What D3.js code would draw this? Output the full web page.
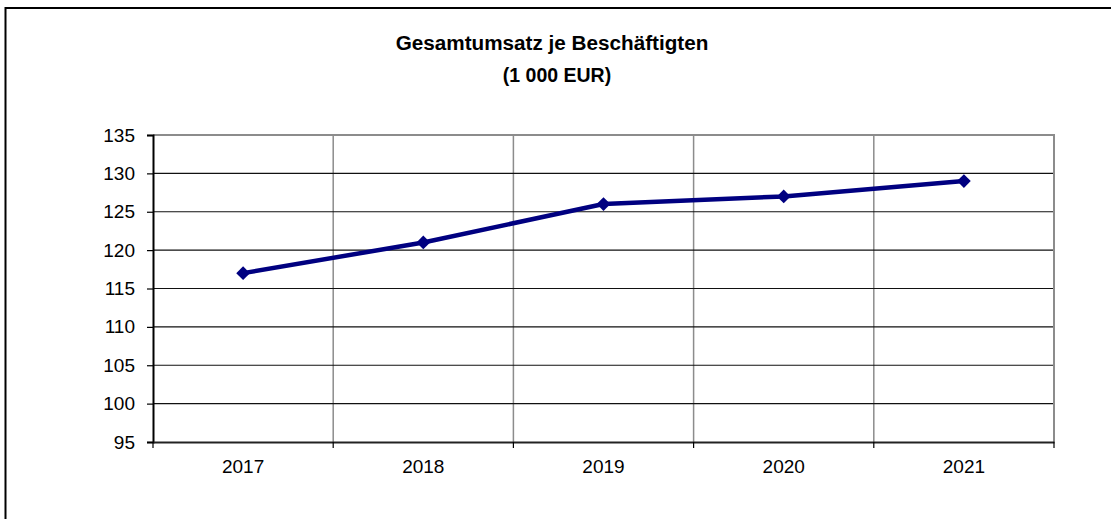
<!DOCTYPE html>
<html>
<head>
  <meta charset="utf-8">
  <title>Gesamtumsatz je Beschäftigten</title>
  <script src="https://d3js.org/d3.v7.min.js"></script>
  <style>
    body { margin: 0; background: #fff; }
    text { font-family: "Liberation Sans", Arial, sans-serif; fill: #000; }
  </style>
</head>
<body>
  <div id="chart"></div>

  <script>
    const years = ["2017", "2018", "2019", "2020", "2021"];
    const umsatz = [117, 121, 126, 127, 129];
    const yTicks = [95, 100, 105, 110, 115, 120, 125, 130, 135];

    const width = 1111, height = 519;
    const margin = { top: 135, right: 57, bottom: 77, left: 153 };
    const innerW = width - margin.left - margin.right;
    const innerH = height - margin.top - margin.bottom;

    const svg = d3.select("#chart")
      .append("svg")
      .attr("width", width)
      .attr("height", height);

    // outer frame (only left and top are visible in the picture)
    svg.append("rect")
      .attr("x", 5.5).attr("y", 8)
      .attr("width", 1200).attr("height", 600)
      .attr("fill", "none")
      .attr("stroke", "#000")
      .attr("stroke-width", 2);

    svg.append("text")
      .attr("x", 552).attr("y", 50)
      .attr("text-anchor", "middle")
      .style("font-size", "20.7px")
      .style("font-weight", "bold")
      .text("Gesamtumsatz je Beschäftigten");

    svg.append("text")
      .attr("x", 557).attr("y", 82)
      .attr("text-anchor", "middle")
      .style("font-size", "19.5px")
      .style("font-weight", "bold")
      .text("(1 000 EUR)");

    const g = svg.append("g")
      .attr("transform", "translate(" + margin.left + "," + margin.top + ")");

    const x = d3.scaleBand().domain(years).range([0, innerW]);
    const y = d3.scaleLinear().domain([95, 135]).range([innerH, 0]);

    // vertical grid at band edges
    g.selectAll(".vgrid")
      .data(years.slice(1))
      .enter().append("line")
      .attr("x1", d => x(d)).attr("x2", d => x(d))
      .attr("y1", 0).attr("y2", innerH)
      .attr("stroke", "#8c8c8c")
      .attr("stroke-width", 1.5);

    // horizontal grid
    g.selectAll(".hgrid")
      .data(yTicks.slice(1, -1))
      .enter().append("line")
      .attr("x1", 0).attr("x2", innerW)
      .attr("y1", d => y(d)).attr("y2", d => y(d))
      .attr("stroke", "#111")
      .attr("stroke-width", 1.1);

    // grey top and right border of plot area
    g.append("path")
      .attr("d", "M0," + y(135) + "H" + innerW + "V" + innerH)
      .attr("fill", "none")
      .attr("stroke", "#8c8c8c")
      .attr("stroke-width", 2);

    // y axis
    const yAxis = g.append("g")
      .call(d3.axisLeft(y).tickValues(yTicks).tickSize(6).tickPadding(12))
      .attr("font-size", 19)
      .attr("font-family", "'Liberation Sans', Arial, sans-serif");
    yAxis.select(".domain").attr("stroke", "#000").attr("stroke-width", 2);
    yAxis.selectAll(".tick line").attr("stroke", "#000").attr("stroke-width", 1.2);
    yAxis.selectAll("text").attr("fill", "#000");

    // x axis: labels centered, ticks at band edges
    const xAxis = g.append("g")
      .attr("transform", "translate(0," + innerH + ")")
      .call(d3.axisBottom(x).tickSize(0).tickPadding(18).tickSizeOuter(0))
      .attr("font-size", 19)
      .attr("font-family", "'Liberation Sans', Arial, sans-serif");
    xAxis.select(".domain").attr("stroke", "#222").attr("stroke-width", 2);
    xAxis.selectAll("text").attr("fill", "#000");

    g.selectAll(".xtick")
      .data(years.concat(["end"]))
      .enter().append("line")
      .attr("x1", (d, i) => i < years.length ? x(d) : innerW)
      .attr("x2", (d, i) => i < years.length ? x(d) : innerW)
      .attr("y1", innerH).attr("y2", innerH + 6)
      .attr("stroke", "#000")
      .attr("stroke-width", 1.2);

    // series line
    const line = d3.line()
      .x((d, i) => x(years[i]) + x.bandwidth() / 2)
      .y(d => y(d));

    g.append("path")
      .datum(umsatz)
      .attr("d", line)
      .attr("fill", "none")
      .attr("stroke", "#000080")
      .attr("stroke-width", 4.5)
      .attr("stroke-linejoin", "round");

    g.selectAll(".marker")
      .data(umsatz)
      .enter().append("path")
      .attr("d", d3.symbol().type(d3.symbolDiamond2).size(120))
      .attr("transform", (d, i) => "translate(" + (x(years[i]) + x.bandwidth() / 2) + "," + y(d) + ")")
      .attr("fill", "#000080");
  </script>
</body>
</html>
